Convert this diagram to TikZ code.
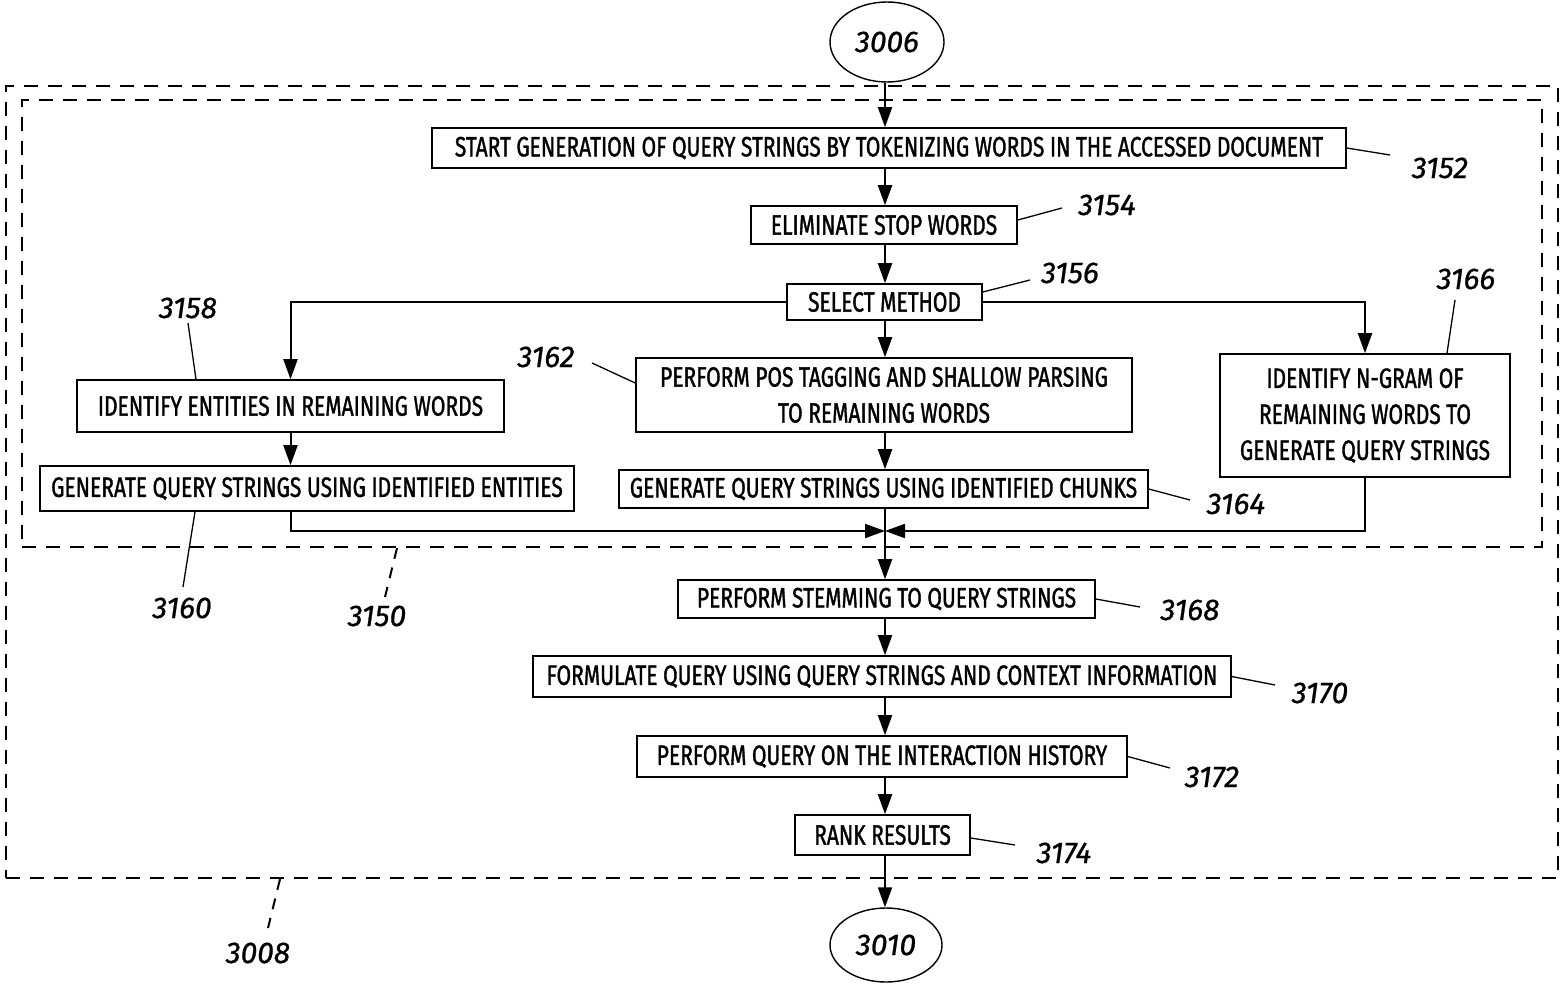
\documentclass[tikz,border=0pt]{standalone}
\usepackage{fontspec}
\setmainfont{Fira Sans}[FakeStretch=0.75,FakeBold=1.2]
\newfontfamily\numfont{Fira Sans}[FakeBold=0.8]
\usetikzlibrary{arrows.meta,shapes.geometric}
\begin{document}
\begin{tikzpicture}[x=1pt,y=-1pt,
  stepbox/.style={draw,line width=1.6pt,inner sep=0pt,align=center,
    font=\fontsize{28}{36}\selectfont},
  term/.style={draw,ellipse,line width=1.4pt,inner sep=0pt,
    font=\numfont\fontsize{30}{36}\selectfont\itshape},
  frame/.style={draw,line width=2.2pt,dash pattern=on 14pt off 10pt,inner sep=0pt},
  num/.style={font=\numfont\fontsize{30}{36}\selectfont\itshape,inner sep=0pt},
  arr/.style={line width=2pt,-{Triangle[length=20pt,width=14pt]}},
  lead/.style={line width=1.3pt},
  dlead/.style={line width=2pt,dash pattern=on 11pt off 9pt}]
\useasboundingbox (0,0) rectangle (1564,983);

% enclosing dashed frames
\node[frame,minimum width=1552pt,minimum height=792pt] (r3008) at (782,482) {};
\node[frame,minimum width=1520pt,minimum height=447pt] (r3150) at (782,323.5) {};

% terminals
\node[term,minimum width=114pt,minimum height=80pt] (e3006) at (887,42) {3006};
\node[term,minimum width=112pt,minimum height=74pt] (e3010) at (886,945) {3010};

% process steps
\node[stepbox,minimum width=914pt,minimum height=40pt] (b3152) at (889,148)
  {START GENERATION OF QUERY STRINGS BY TOKENIZING WORDS IN THE ACCESSED DOCUMENT};
\node[stepbox,minimum width=266pt,minimum height=38pt] (b3154) at (884,225) {ELIMINATE STOP WORDS};
\node[stepbox,minimum width=195pt,minimum height=36pt] (b3156) at (884.5,302) {SELECT METHOD};
\node[stepbox,minimum width=427pt,minimum height=52pt] (b3158) at (290.5,406) {IDENTIFY ENTITIES IN REMAINING WORDS};
\node[stepbox,minimum width=496pt,minimum height=74pt] (b3162) at (884,395)
  {PERFORM POS TAGGING AND SHALLOW PARSING\\TO REMAINING WORDS};
\node[stepbox,minimum width=290pt,minimum height=123pt] (b3166) at (1365,415.5)
  {IDENTIFY N-GRAM OF\\REMAINING WORDS TO\\GENERATE QUERY STRINGS};
\node[stepbox,minimum width=534pt,minimum height=45pt] (b3160) at (307,488.5) {GENERATE QUERY STRINGS USING IDENTIFIED ENTITIES};
\node[stepbox,minimum width=529pt,minimum height=38pt] (b3164) at (883.5,489) {GENERATE QUERY STRINGS USING IDENTIFIED CHUNKS};
\node[stepbox,minimum width=417pt,minimum height=38pt] (b3168) at (886.5,599) {PERFORM STEMMING TO QUERY STRINGS};
\node[stepbox,minimum width=698pt,minimum height=41pt] (b3170) at (882,676.5) {FORMULATE QUERY USING QUERY STRINGS AND CONTEXT INFORMATION};
\node[stepbox,minimum width=490pt,minimum height=41pt] (b3172) at (882,756.5) {PERFORM QUERY ON THE INTERACTION HISTORY};
\node[stepbox,minimum width=175pt,minimum height=40pt] (b3174) at (882.5,835) {RANK RESULTS};

% main column
\coordinate (col) at (885,0);
\coordinate (m) at (885,531);
\draw[arr] (e3006.south -| col) -- (b3152.north -| col);
\draw[arr] (b3152.south -| col) -- (b3154.north -| col);
\draw[arr] (b3154.south -| col) -- (b3156.north -| col);
\draw[arr] (b3156.south -| col) -- (b3162.north -| col);
\draw[arr] (b3162.south -| col) -- (b3164.north -| col);
\draw[line width=2pt] (b3164.south -| col) -- (m);
\draw[arr] (m) -- (b3168.north -| col);
\draw[arr] (b3168.south -| col) -- (b3170.north -| col);
\draw[arr] (b3170.south -| col) -- (b3172.north -| col);
\draw[arr] (b3172.south -| col) -- (b3174.north -| col);
\draw[arr] (b3174.south -| col) -- (e3010.north -| col);

% branches
\draw[arr] (b3156.west) -| (b3158.north);
\draw[arr] (b3156.east) -| (b3166.north);
\draw[arr] (b3158.south) -- (b3158.south |- b3160.north);
\draw[arr] (b3158.south |- b3160.south) |- (m);
\draw[arr] (b3166.south) |- (m);

% reference numerals
\node[num] (n3152) at (1440,168) {3152};
\node[num] (n3154) at (1107,205) {3154};
\node[num] (n3156) at (1070,273) {3156};
\node[num] (n3166) at (1466,279) {3166};
\node[num] (n3158) at (188,308) {3158};
\node[num] (n3162) at (546,357) {3162};
\node[num] (n3164) at (1236,504) {3164};
\node[num] (n3160) at (182,608) {3160};
\node[num] (n3150) at (377,616) {3150};
\node[num] (n3168) at (1190,610) {3168};
\node[num] (n3170) at (1320,693) {3170};
\node[num] (n3172) at (1212,777) {3172};
\node[num] (n3174) at (1064,853) {3174};
\node[num] (n3008) at (258,953) {3008};

\coordinate (t3152) at (1390,155);
\coordinate (t3154) at (1062,208);
\coordinate (t3156) at (1030,280);
\coordinate (t3166) at (1455,300);
\coordinate (t3158) at (188,323);
\coordinate (t3162) at (592,363);
\coordinate (t3164) at (1190,500);
\coordinate (t3160) at (183,587);
\coordinate (t3150) at (385,597);
\coordinate (t3168) at (1140,607);
\coordinate (t3170) at (1275,685);
\coordinate (t3172) at (1170,768);
\coordinate (t3174) at (1015,845);
\coordinate (t3008) at (268,928);

\draw[lead] (b3152.east) -- (t3152);
\draw[lead] ([yshift=5pt]b3154.east) -- (t3154);
\draw[lead] ([yshift=10pt]b3156.east) -- (t3156);
\draw[lead] ([xshift=82pt]b3166.north) -- (t3166);
\draw[lead] ([xshift=-94.5pt]b3158.north) -- (t3158);
\draw[lead] ([yshift=12pt]b3162.west) -- (t3162);
\draw[lead] (b3164.east) -- (t3164);
\draw[lead] ([xshift=-112pt]b3160.south) -- (t3160);
\draw[dlead] ([xshift=-385pt]r3150.south) -- (t3150);
\draw[lead] (b3168.east) -- (t3168);
\draw[lead] (b3170.east) -- (t3170);
\draw[lead] (b3172.east) -- (t3172);
\draw[lead] ([yshift=-3pt]b3174.east) -- (t3174);
\draw[dlead] ([xshift=-502pt]r3008.south) -- (t3008);
\end{tikzpicture}
\end{document}
